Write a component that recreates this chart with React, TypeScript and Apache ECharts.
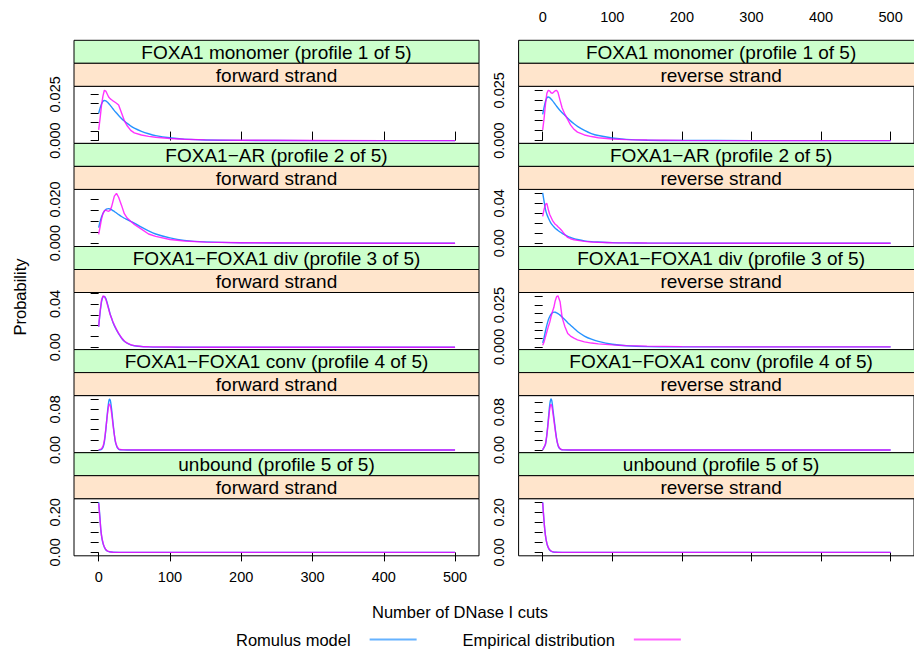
import React, { useEffect, useRef } from "react";
import * as echarts from "echarts";

const FONT = "'Liberation Sans', Arial, Helvetica, sans-serif";

const PROFILES = [
  "FOXA1 monomer (profile 1 of 5)",
  "FOXA1\u2212AR (profile 2 of 5)",
  "FOXA1\u2212FOXA1 div (profile 3 of 5)",
  "FOXA1\u2212FOXA1 conv (profile 4 of 5)",
  "unbound (profile 5 of 5)",
];
const STRANDS = ["forward strand", "reverse strand"];
const SERIES_NAMES = ["Romulus model", "Empirical distribution"];

const X_TICKS = [0, 100, 200, 300, 400, 500];
const X_MIN = -34.6;
const X_MAX = 533.6;

// x positions (number of DNase I cuts) at which values were read
const X_MAIN = [0, 2, 4, 6, 8, 10, 12, 14, 16, 18, 20, 22, 25, 28, 32, 36, 40, 45, 50, 60, 70, 80, 100, 120, 150, 200, 300, 400, 500];
const X_CONV = [0, 4, 6, 7, 8, 9, 10, 11, 12, 13, 14, 15, 16, 17, 18, 19, 20, 21, 22, 23, 24, 26, 28, 30, 35, 40, 60, 100, 200, 300, 400, 500];
const X_UNB = [0, 1, 2, 3, 4, 5, 6, 7, 8, 10, 12, 15, 20, 30, 50, 100, 200, 300, 400, 500];

// profile 1
const MODEL_1F = [0.0148, 0.0175, 0.0198, 0.0212, 0.0217, 0.0215, 0.0209, 0.0201, 0.0192, 0.0182, 0.0172, 0.0162, 0.0149, 0.0136, 0.012, 0.0106, 0.0093, 0.0079, 0.0067, 0.005, 0.0037, 0.0027, 0.0015, 0.0008, 0.0003, 0.0001, 0, 0, 0];
const EMP_1F = [0.0058, 0.012, 0.019, 0.024, 0.0272, 0.0268, 0.0252, 0.0236, 0.0227, 0.0221, 0.0215, 0.021, 0.0202, 0.0192, 0.015, 0.0108, 0.008, 0.0055, 0.0042, 0.003, 0.0023, 0.0018, 0.0011, 0.0007, 0.0004, 0.0002, 0.00005, 0, 0];
const MODEL_1R = [0.013, 0.0165, 0.0195, 0.0213, 0.0217, 0.0214, 0.0207, 0.0199, 0.019, 0.018, 0.0171, 0.0162, 0.015, 0.0139, 0.0125, 0.0111, 0.0098, 0.0084, 0.0071, 0.0051, 0.0035, 0.0025, 0.0013, 0.0006, 0.0002, 0.00005, 0, 0, 0];
const EMP_1R = [0.0053, 0.011, 0.018, 0.0235, 0.025, 0.0247, 0.0238, 0.0235, 0.0242, 0.0248, 0.025, 0.024, 0.02, 0.0162, 0.013, 0.0104, 0.0078, 0.0056, 0.0042, 0.0028, 0.002, 0.0014, 0.0008, 0.0005, 0.0003, 0.0001, 0, 0, 0];
// profile 2
const MODEL_2F = [0.0071, 0.0098, 0.012, 0.0136, 0.0147, 0.0154, 0.0157, 0.0158, 0.0156, 0.0153, 0.0149, 0.0145, 0.0138, 0.0131, 0.0122, 0.0114, 0.0108, 0.01, 0.0092, 0.0073, 0.0056, 0.0042, 0.0024, 0.0013, 0.0006, 0.0002, 0.00002, 0, 0];
const EMP_2F = [0.004, 0.0075, 0.011, 0.0135, 0.0148, 0.0151, 0.0148, 0.0146, 0.015, 0.0165, 0.019, 0.0215, 0.0228, 0.021, 0.0174, 0.0135, 0.0115, 0.01, 0.0086, 0.0064, 0.0042, 0.0031, 0.0017, 0.001, 0.0005, 0.0002, 0.00005, 0, 0];
const MODEL_2R = [0.0506, 0.042, 0.034, 0.029, 0.0255, 0.0225, 0.02, 0.0181, 0.0165, 0.0151, 0.0139, 0.0128, 0.0113, 0.0099, 0.0083, 0.0069, 0.0058, 0.0046, 0.0037, 0.0024, 0.0016, 0.0012, 0.0006, 0.0003, 0.0001, 0.00003, 0, 0, 0];
const EMP_2R = [0.027, 0.034, 0.039, 0.04, 0.034, 0.029, 0.026, 0.023, 0.021, 0.019, 0.018, 0.0165, 0.0145, 0.0122, 0.0085, 0.0058, 0.0045, 0.0035, 0.0028, 0.0018, 0.0012, 0.0009, 0.0005, 0.0003, 0.0002, 0.0001, 0, 0, 0];
// profile 3
const MODEL_3F = [0.019, 0.032, 0.042, 0.0465, 0.047, 0.045, 0.041, 0.036, 0.031, 0.027, 0.023, 0.02, 0.016, 0.0125, 0.0085, 0.0055, 0.0037, 0.0022, 0.0014, 0.0006, 0.0003, 0.0001, 0.00005, 0, 0, 0, 0, 0, 0];
const EMP_3F = [0.019, 0.033, 0.0435, 0.0474, 0.0468, 0.0445, 0.04, 0.0352, 0.0305, 0.027, 0.0235, 0.0205, 0.0165, 0.0128, 0.0088, 0.0057, 0.0038, 0.0023, 0.0015, 0.0007, 0.0004, 0.0003, 0.0002, 0.0001, 0, 0, 0, 0, 0];
const MODEL_3R = [0.0024, 0.0055, 0.0095, 0.013, 0.016, 0.018, 0.0195, 0.0204, 0.0208, 0.0207, 0.0204, 0.0199, 0.019, 0.0178, 0.0162, 0.0145, 0.013, 0.0111, 0.0092, 0.0065, 0.0046, 0.0033, 0.0016, 0.0007, 0.0002, 0.00004, 0, 0, 0];
const EMP_3R = [0.001, 0.003, 0.006, 0.009, 0.012, 0.0145, 0.018, 0.021, 0.0235, 0.0275, 0.03, 0.0305, 0.027, 0.0175, 0.012, 0.008, 0.0065, 0.0052, 0.0042, 0.003, 0.0023, 0.0018, 0.0012, 0.0008, 0.0005, 0.0002, 0.00005, 0, 0];
// profile 4
const MODEL_4F = [0, 0.001, 0.005, 0.009, 0.016, 0.026, 0.039, 0.054, 0.069, 0.083, 0.094, 0.1, 0.099, 0.093, 0.082, 0.069, 0.055, 0.042, 0.03, 0.02, 0.013, 0.005, 0.0015, 0.0005, 0.0001, 0, 0, 0, 0, 0, 0, 0];
const EMP_4F = [0, 0.002, 0.007, 0.012, 0.019, 0.029, 0.041, 0.054, 0.067, 0.078, 0.087, 0.0905, 0.089, 0.083, 0.074, 0.063, 0.051, 0.04, 0.03, 0.021, 0.014, 0.006, 0.002, 0.0008, 0.0002, 0.0001, 0, 0, 0, 0, 0, 0];
const MODEL_4R = [0.0001, 0.012, 0.033, 0.047, 0.063, 0.079, 0.094, 0.104, 0.108, 0.105, 0.095, 0.082, 0.07, 0.058, 0.046, 0.034, 0.024, 0.016, 0.01, 0.006, 0.0035, 0.001, 0.0003, 0.0001, 0, 0, 0, 0, 0, 0, 0, 0];
const EMP_4R = [0.0002, 0.012, 0.031, 0.044, 0.058, 0.072, 0.085, 0.094, 0.0965, 0.094, 0.086, 0.075, 0.064, 0.053, 0.042, 0.032, 0.023, 0.016, 0.011, 0.007, 0.0045, 0.0015, 0.0005, 0.0002, 0.0001, 0, 0, 0, 0, 0, 0, 0];
// profile 5
const MODEL_5F = [0.25, 0.21, 0.165, 0.115, 0.084, 0.063, 0.047, 0.035, 0.026, 0.013, 0.007, 0.003, 0.0008, 0.0001, 0, 0, 0, 0, 0, 0];
const EMP_5F = [0.245, 0.2, 0.158, 0.114, 0.085, 0.065, 0.05, 0.037, 0.027, 0.014, 0.0075, 0.0035, 0.001, 0.0003, 0.0001, 0, 0, 0, 0, 0];
const MODEL_5R = [0.25, 0.2, 0.155, 0.115, 0.085, 0.062, 0.045, 0.033, 0.024, 0.012, 0.006, 0.002, 0.0005, 0.0001, 0, 0, 0, 0, 0, 0];
const EMP_5R = [0.248, 0.198, 0.152, 0.113, 0.084, 0.062, 0.046, 0.034, 0.025, 0.013, 0.0068, 0.0028, 0.0008, 0.0002, 0.0001, 0, 0, 0, 0, 0];

// panel order: row-major, [forward, reverse] for each profile
const PANEL_X = [X_MAIN, X_MAIN, X_MAIN, X_MAIN, X_MAIN, X_MAIN, X_CONV, X_CONV, X_UNB, X_UNB];
const PANEL_MODEL = [MODEL_1F, MODEL_1R, MODEL_2F, MODEL_2R, MODEL_3F, MODEL_3R, MODEL_4F, MODEL_4R, MODEL_5F, MODEL_5R];
const PANEL_EMP = [EMP_1F, EMP_1R, EMP_2F, EMP_2R, EMP_3F, EMP_3R, EMP_4F, EMP_4R, EMP_5F, EMP_5R];

// y scales
const Y_MIN = [-0.00152, -0.0014, -0.00152, -0.0033, -0.0022, -0.0016, -0.0054, -0.0058, -0.017, -0.017];
const Y_MAX = [0.02935, 0.027, 0.0246, 0.054, 0.0506, 0.0325, 0.1072, 0.115, 0.268, 0.268];
const Y_STEP = [0.005, 0.005, 0.005, 0.01, 0.01, 0.005, 0.02, 0.02, 0.05, 0.05];
const Y_TOP_TICK = [0.025, 0.025, 0.02, 0.05, 0.05, 0.03, 0.1, 0.1, 0.25, 0.25];
const Y_LABELS = [
  [0, 0.025], [0, 0.025], [0, 0.02], [0, 0.04], [0, 0.04],
  [0, 0.025], [0, 0.08], [0, 0.08], [0, 0.2], [0, 0.2],
];
const Y_DECIMALS = [3, 3, 3, 2, 2, 3, 2, 2, 2, 2];

const LINE_COLORS = ["rgba(0,128,255,0.85)", "rgba(255,0,255,0.8)"];
const LEGEND_COLORS = ["rgba(0,128,255,0.6)", "rgba(255,0,255,0.6)"];

// layout
const COL_LEFT = [74, 518.6];
const PANEL_W = 405;
const ROW_TOP0 = 40.3;
const ROW_H = 103.1;
const STRIP_H = 23;
const PLOT_H = 57.1;

function ticksFor(i: number): number[] {
  const out: number[] = [];
  const n = Math.round(Y_TOP_TICK[i] / Y_STEP[i]);
  for (let k = 0; k <= n; k++) out.push(+(k * Y_STEP[i]).toFixed(6));
  return out;
}

function zip(xs: number[], ys: number[]) {
  return xs.map((x, k) => [x, ys[k]]);
}

export default function App() {
  const ref = useRef<HTMLDivElement>(null);
  useEffect(() => {
    if (!ref.current) return;
    const chart = echarts.init(ref.current, undefined, { renderer: "svg" });
    const grids: any[] = [];
    const xAxes: any[] = [];
    const yAxes: any[] = [];
    const series: any[] = [];
    const graphics: any[] = [];
    for (let row = 0; row < 5; row++) {
      for (let col = 0; col < 2; col++) {
        const i = row * 2 + col;
        const rowTop = ROW_TOP0 + ROW_H * row;
        const left = COL_LEFT[col];
        grids.push({
          left,
          top: rowTop + 2 * STRIP_H,
          width: PANEL_W,
          height: PLOT_H,
          show: true,
          borderColor: "#000",
          borderWidth: 1,
          backgroundColor: "transparent",
        });
        const showX = row === 0 || row === 4;
        const showXLabel = (row === 0 && col === 1) || (row === 4 && col === 0);
        xAxes.push({
          gridIndex: i,
          type: "value",
          min: X_MIN,
          max: X_MAX,
          show: showX,
          position: row === 0 ? "top" : "bottom",
          offset: row === 0 ? 2 * STRIP_H : 0,
          axisLine: { show: false },
          axisTick: { show: true, length: 9, customValues: X_TICKS, lineStyle: { color: "#000", width: 1 } },
          axisLabel: {
            show: showXLabel,
            customValues: X_TICKS,
            fontSize: 14.5,
            fontFamily: FONT,
            color: "#000",
            margin: row === 0 ? 16 : 14,
          },
          splitLine: { show: false },
        });
        const dec = Y_DECIMALS[i];
        yAxes.push({
          gridIndex: i,
          type: "value",
          min: Y_MIN[i],
          max: Y_MAX[i],
          axisLine: { show: false },
          axisTick: { show: true, length: 8, customValues: ticksFor(i), lineStyle: { color: "#000", width: 1 } },
          axisLabel: {
            customValues: Y_LABELS[i],
            rotate: 90,
            fontSize: 14.5,
            fontFamily: FONT,
            color: "#000",
            margin: 12,
            formatter: (v: number) => Number(v).toFixed(dec),
          },
          splitLine: { show: false },
        });
        series.push({
          type: "line",
          name: SERIES_NAMES[0],
          xAxisIndex: i,
          yAxisIndex: i,
          data: zip(PANEL_X[i], PANEL_MODEL[i]),
          symbol: "none",
          showSymbol: false,
          smooth: 0.3,
          lineStyle: { color: LINE_COLORS[0], width: 1.4 },
          itemStyle: { color: LINE_COLORS[0] },
          z: 2,
        });
        series.push({
          type: "line",
          name: SERIES_NAMES[1],
          xAxisIndex: i,
          yAxisIndex: i,
          data: zip(PANEL_X[i], PANEL_EMP[i]),
          symbol: "none",
          showSymbol: false,
          lineStyle: { color: LINE_COLORS[1], width: 1.4 },
          itemStyle: { color: LINE_COLORS[1] },
          z: 3,
        });
        // strips
        const stripDefs = [
          { fill: "#ccffcc", text: PROFILES[row] },
          { fill: "#ffe5cc", text: STRANDS[col] },
        ];
        stripDefs.forEach((s, k) => {
          const y = rowTop + k * STRIP_H;
          graphics.push({
            type: "rect",
            shape: { x: left, y, width: PANEL_W, height: STRIP_H },
            style: { fill: s.fill, stroke: "#000", lineWidth: 1 },
            z: 1,
          });
          graphics.push({
            type: "text",
            x: left + PANEL_W / 2,
            y: y + STRIP_H / 2 + 0.5,
            style: {
              text: s.text,
              fontSize: 19,
              fontFamily: FONT,
              fill: "#000",
              align: "center",
              verticalAlign: "middle",
            },
            z: 2,
          });
        });
      }
    }
    graphics.push({
      type: "text",
      x: 20,
      y: 297,
      rotation: Math.PI / 2,
      style: { text: "Probability", fontSize: 16.5, fontFamily: FONT, fill: "#000", align: "center", verticalAlign: "middle" },
    });
    graphics.push({
      type: "text",
      x: 460,
      y: 611.7,
      style: { text: "Number of DNase I cuts", fontSize: 16.5, fontFamily: FONT, fill: "#000", align: "center", verticalAlign: "middle" },
    });

    chart.setOption({
      animation: false,
      backgroundColor: "#fff",
      grid: grids,
      xAxis: xAxes,
      yAxis: yAxes,
      series,
      graphic: { elements: graphics },
      legend: {
        data: SERIES_NAMES.map((n, k) => ({ name: n, itemStyle: { color: LEGEND_COLORS[k] } })),
        left: 236,
        top: 631,
        padding: 0,
        align: "right",
        orient: "horizontal",
        icon: "rect",
        itemWidth: 47,
        itemHeight: 2,
        itemGap: 46,
        selectedMode: false,
        textStyle: { fontSize: 16.5, fontFamily: FONT, color: "#000", padding: [0, 14, 0, 0] },
      },
    });
    return () => chart.dispose();
  }, []);
  return <div ref={ref} style={{ position: "fixed", left: 0, top: 0, width: 914, height: 654 }} />;
}
